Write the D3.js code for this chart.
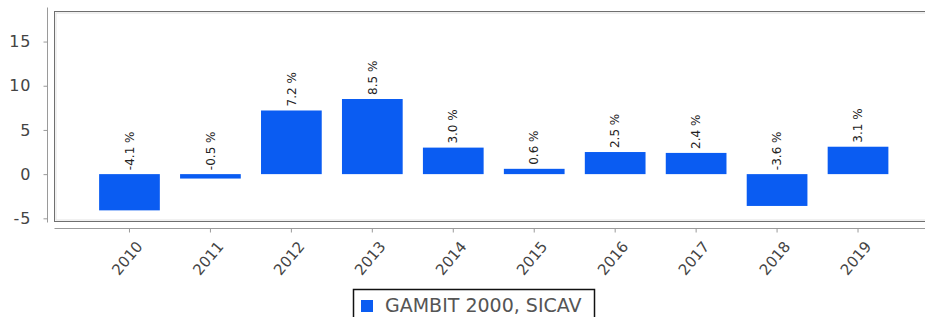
<!DOCTYPE html>
<html>
<head>
<meta charset="utf-8">
<script src="https://cdn.jsdelivr.net/npm/d3@7"></script>
<style>
  html, body { margin: 0; padding: 0; background: #fff; }
  svg { display: block; }
  text { font-family: "DejaVu Sans", sans-serif; }
</style>
</head>
<body>
<svg id="chart" width="925" height="317"></svg>
<script>
const years = ["2010","2011","2012","2013","2014","2015","2016","2017","2018","2019"];
const values = [-4.1, -0.5, 7.2, 8.5, 3.0, 0.6, 2.5, 2.4, -3.6, 3.1];
const yTicks = [-5, 0, 5, 10, 15];
const seriesName = "GAMBIT 2000, SICAV";

const svg = d3.select("#chart");
const W = 925, H = 317;

const frame = { left: 54.5, top: 11.5, right: 934, bottom: 221.5 };

const x = d3.scaleBand()
  .domain(years)
  .range([89, 898.5])
  .paddingInner(0.25)
  .paddingOuter(0.125);

const y = d3.scaleLinear()
  .domain([-5.36, 18.4])
  .range([frame.bottom, frame.top]);

// plot frame
svg.append("rect")
  .attr("x", frame.left).attr("y", frame.top)
  .attr("width", frame.right - frame.left).attr("height", frame.bottom - frame.top)
  .attr("fill", "#fff").attr("stroke", "#6f6f6f").attr("stroke-width", 1);
svg.append("rect")
  .attr("x", frame.left + 1.5).attr("y", frame.top + 1.5)
  .attr("width", frame.right - frame.left - 3).attr("height", frame.bottom - frame.top - 3)
  .attr("fill", "none").attr("stroke", "#e2e2e2").attr("stroke-width", 1);

// y axis
const yAxis = svg.append("g")
  .attr("transform", "translate(47.5,0)")
  .call(d3.axisLeft(y).tickValues(yTicks).tickSize(4).tickPadding(12).tickSizeOuter(0));
yAxis.select(".domain").attr("stroke", "#9a9a9a").attr("d", `M0,7.5V${frame.bottom + 1}`);
yAxis.selectAll(".tick line").attr("stroke", "#9a9a9a");
yAxis.selectAll(".tick text")
  .attr("fill", "#444").style("font-size", "16px").style("letter-spacing", "1px")
  .text(d => d < 0 ? "-" + Math.abs(d) : d);

// x axis
const xAxis = svg.append("g")
  .attr("transform", "translate(0,228.5)")
  .call(d3.axisBottom(x).tickSize(4).tickSizeOuter(0));
xAxis.select(".domain").attr("stroke", "#9a9a9a").attr("d", `M${frame.left},0H${W}`);
xAxis.selectAll(".tick line").attr("stroke", "#9a9a9a");
xAxis.selectAll(".tick text")
  .attr("fill", "#444").style("font-size", "15px")
  .attr("text-anchor", "end")
  .attr("dy", "0.35em")
  .attr("transform", "translate(10,15) rotate(-50)")
  .attr("y", 0);

// bars
svg.append("g").selectAll("rect")
  .data(values)
  .join("rect")
  .attr("x", (d, i) => x(years[i]))
  .attr("width", x.bandwidth())
  .attr("y", d => y(Math.max(0, d)))
  .attr("height", d => Math.abs(y(d) - y(0)))
  .attr("fill", "#0a5cf2");

// value labels
svg.append("g").selectAll("text")
  .data(values)
  .join("text")
  .attr("transform", (d, i) => `translate(${x(years[i]) + x.bandwidth() / 2},${y(Math.max(0, d)) - 4}) rotate(-90)`)
  .attr("text-anchor", "start")
  .attr("dy", "0.35em")
  .attr("fill", "#222")
  .style("font-size", "12px")
  .text(d => d.toFixed(1) + " %");

// legend
const lg = svg.append("g");
lg.append("rect")
  .attr("x", 353.5).attr("y", 289.5).attr("width", 241).attr("height", 36)
  .attr("fill", "#fff").attr("stroke", "#111").attr("stroke-width", 1.5);
lg.append("rect")
  .attr("x", 361).attr("y", 300).attr("width", 12).attr("height", 12)
  .attr("fill", "#0a5cf2");
lg.append("text")
  .attr("x", 385).attr("y", 312)
  .attr("fill", "#555")
  .style("font-size", "19px")
  .text(seriesName);
</script>
</body>
</html>
